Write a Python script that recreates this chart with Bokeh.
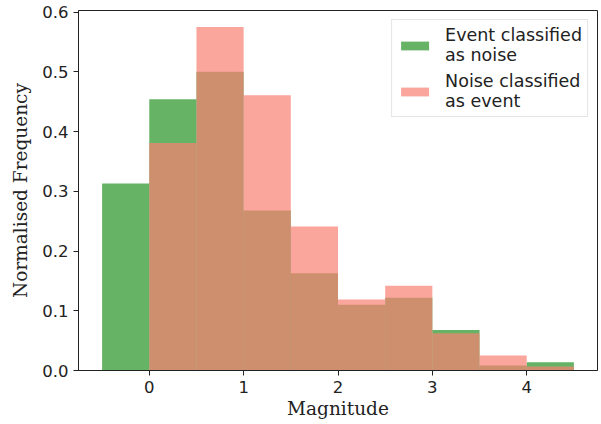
from bokeh.plotting import figure
from bokeh.models import Range1d, FixedTicker, PrintfTickFormatter, Legend, LegendItem
from bokeh.embed import file_html
from bokeh.resources import INLINE

# Data
bin_edges = [-0.5, 0.0, 0.5, 1.0, 1.5, 2.0, 2.5, 3.0, 3.5, 4.0, 4.5]
event_as_noise = [0.313, 0.454, 0.500, 0.268, 0.163, 0.110, 0.122, 0.068, 0.0084, 0.0139]
noise_as_event = [0.0, 0.381, 0.575, 0.461, 0.241, 0.119, 0.142, 0.0625, 0.025, 0.0067]
x_ticks = [0, 1, 2, 3, 4]
y_ticks = [0.0, 0.1, 0.2, 0.3, 0.4, 0.5, 0.6]
label_green = "Event classified\nas noise"
label_salmon = "Noise classified\nas event"

lefts = bin_edges[:-1]
rights = bin_edges[1:]

p = figure(width=601, height=424, output_backend="svg", toolbar_location=None,
           x_range=Range1d(-0.75, 4.75), y_range=Range1d(0, 0.6027),
           min_border_left=78, min_border_right=4, min_border_top=10, min_border_bottom=54)

g = p.quad(left=lefts, right=rights, bottom=0, top=event_as_noise,
           fill_color="green", fill_alpha=0.6, line_color=None)
s = p.quad(left=lefts, right=rights, bottom=0, top=noise_as_event,
           fill_color="salmon", fill_alpha=0.7, line_color=None)

p.xgrid.visible = False
p.ygrid.visible = False
p.outline_line_color = "#222222"
p.outline_line_width = 1
p.outline_line_alpha = 1

p.xaxis.ticker = FixedTicker(ticks=x_ticks)
p.yaxis.ticker = FixedTicker(ticks=y_ticks)
p.yaxis.formatter = PrintfTickFormatter(format="%.1f")

for ax in (p.xaxis, p.yaxis):
    ax.major_tick_in = 0
    ax.major_tick_out = 5
    ax.minor_tick_in = 0
    ax.minor_tick_out = 0
    ax.axis_line_color = "#222222"
    ax.major_tick_line_color = "#222222"
    ax.major_label_text_font = "DejaVu Sans"
    ax.major_label_text_font_size = "16.5px"
    ax.major_label_text_color = "#222222"
    ax.major_label_standoff = 5
    ax.axis_label_text_font = "DejaVu Serif"
    ax.axis_label_text_font_size = "18.5px"
    ax.axis_label_text_font_style = "normal"
    ax.axis_label_text_color = "#222222"

p.xaxis.axis_label = "Magnitude"
p.yaxis.axis_label = "Normalised Frequency"
p.xaxis.axis_label_standoff = 2
p.yaxis.axis_label_standoff = 8

legend = Legend(items=[LegendItem(label=label_green, renderers=[g]),
                       LegendItem(label=label_salmon, renderers=[s])],
                location="top_right")
legend.margin = 9
legend.padding = 5
legend.spacing = 6
legend.glyph_width = 35
legend.glyph_height = 11
legend.label_standoff = 13
legend.label_text_font = "DejaVu Sans"
legend.label_text_font_size = "17.5px"
legend.label_text_color = "#222222"
legend.border_line_color = "#cccccc"
legend.background_fill_alpha = 0.8
p.add_layout(legend)

open("out.html", "w").write(file_html(p, INLINE))
